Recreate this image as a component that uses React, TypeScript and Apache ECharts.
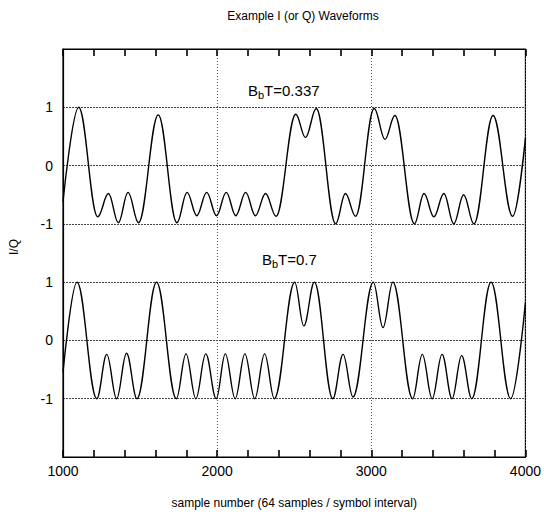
import React, { useEffect, useRef } from "react";
import * as echarts from "echarts";

// ---- axis data ----
const X_MIN = 1000;
const X_MAX = 4000;
const X_INTERVAL = 1000;
const X_TICK_INTERVAL = 200;
const Y_MIN = -2;
const Y_MAX = 5;
// tick labels for the stacked waveforms (top waveform is shifted by +3)
const yTickValues = [-1, 0, 1, 2, 3, 4];
const yTickLabels = ["-1", "0", "1", "-1", "0", "1"];
const TOP_OFFSET = 3;

// ---- BbT = 0.337 waveform (extrema) ----
const bt0337Samples = [
  1000, 1102, 1225, 1295, 1359, 1422, 1490, 1618, 1739, 1805, 1868, 1932, 1996,
  2059, 2121, 2185, 2248, 2314, 2382, 2510, 2573, 2643, 2769, 2832, 2898, 3019,
  3089, 3153, 3280, 3342, 3406, 3471, 3535, 3599, 3666, 3790, 3917, 4000,
];
const bt0337Values = [
  -0.62, 1.0, -0.88, -0.48, -0.98, -0.46, -0.98, 0.87, -0.98, -0.46, -0.86, -0.46,
  -0.86, -0.46, -0.86, -0.46, -0.86, -0.48, -0.87, 0.88, 0.48, 0.98, -1.0, -0.48,
  -0.87, 0.98, 0.45, 0.86, -1.0, -0.48, -0.88, -0.48, -1.0, -0.5, -1.0, 0.86,
  -0.87, 0.47,
];

// ---- BbT = 0.7 waveform ----
const bt07Samples = [
  1000, 1091, 1219, 1284, 1348, 1412, 1480, 1607, 1735, 1798, 1862, 1926, 1994,
  2053, 2117, 2180, 2244, 2308, 2371, 2503, 2562, 2631, 2750, 2817, 2881, 3013,
  3076, 3140, 3268, 3331, 3395, 3459, 3524, 3586, 3652, 3777, 3904, 4000,
];
const bt07Values = [
  -0.55, 1.0, -1.0, -0.24, -1.0, -0.22, -1.0, 1.0, -1.0, -0.23, -1.0, -0.23, -1.0,
  -0.23, -1.0, -0.23, -1.0, -0.23, -1.0, 1.0, 0.25, 1.0, -1.0, -0.24, -0.97, 1.0,
  0.22, 1.0, -1.0, -0.24, -1.0, -0.24, -1.0, -0.26, -1.0, 1.0, -1.0, 0.65,
];

const FONT = "'Liberation Sans', Arial, Helvetica, sans-serif";

export default function App() {
  const ref = useRef<HTMLDivElement>(null);

  useEffect(() => {
    if (!ref.current) return;
    const chart = echarts.init(ref.current, undefined, { renderer: "svg" });

    const topData = bt0337Samples.map((s, i) => [s, bt0337Values[i] + TOP_OFFSET]);
    const bottomData = bt07Samples.map((s, i) => [s, bt07Values[i]]);

    const labelFor = (v: number) => {
      const r = Math.round(v);
      const i = yTickValues.indexOf(r);
      return i >= 0 && Math.abs(v - r) < 1e-6 ? yTickLabels[i] : "";
    };

    const lineSeries = (data: number[][]) => ({
      type: "line",
      data,
      showSymbol: false,
      smooth: 0.38,
      smoothMonotone: "x",
      lineStyle: { color: "#000", width: 1.4 },
      xAxisIndex: 0,
      yAxisIndex: 0,
    });

    const tickAxis = (position: "top" | "bottom") => ({
      type: "value",
      position,
      min: X_MIN,
      max: X_MAX,
      interval: X_TICK_INTERVAL,
      axisLine: { show: true, onZero: false, lineStyle: { color: "#000", width: 1.2 } },
      axisTick: { show: true, inside: true, length: 7, lineStyle: { color: "#000", width: 1.6 } },
      axisLabel: { show: false },
      splitLine: { show: false },
    });

    chart.setOption({
      animation: false,
      backgroundColor: "#fff",
      textStyle: { fontFamily: FONT },
      title: {
        text: "Example I (or Q) Waveforms",
        left: 298,
        top: 5,
        textAlign: "center",
        textStyle: { fontSize: 12, fontWeight: "normal", color: "#000", fontFamily: FONT },
      },
      grid: {
        left: 58,
        right: 15,
        top: 49,
        bottom: 56,
        show: true,
        borderColor: "#000",
        borderWidth: 1.2,
        backgroundColor: "transparent",
      },
      xAxis: [
        {
          type: "value",
          position: "bottom",
          min: X_MIN,
          max: X_MAX,
          interval: X_INTERVAL,
          name: "sample number (64 samples / symbol interval)",
          nameLocation: "middle",
          nameGap: 40,
          nameTextStyle: { fontSize: 12, color: "#000", fontFamily: FONT },
          axisLine: { show: true, onZero: false, lineStyle: { color: "#000", width: 1.2 } },
          axisTick: { show: false },
          axisLabel: {
            fontSize: 14,
            color: "#000",
            margin: 7,
            fontFamily: FONT,
            formatter: (v: number) => String(v),
          },
          splitLine: { show: true, lineStyle: { type: [1, 2], color: "#555", width: 1 } },
        },
        tickAxis("bottom"),
        tickAxis("top"),
      ],
      yAxis: {
        type: "value",
        min: Y_MIN,
        max: Y_MAX,
        interval: 1,
        name: "I/Q",
        nameLocation: "middle",
        nameGap: 43,
        nameRotate: 90,
        nameTextStyle: { fontSize: 12, color: "#000", fontFamily: FONT, padding: [0, 0, 0, 12] },
        axisLine: { show: true, onZero: false, lineStyle: { color: "#000", width: 1.2 } },
        axisTick: { show: false },
        axisLabel: { fontSize: 14, color: "#000", margin: 10, formatter: labelFor, fontFamily: FONT },
        splitLine: { show: true, lineStyle: { type: [2, 1], color: "#444", width: 1 } },
      },
      graphic: [
        {
          type: "text",
          left: 248,
          top: 83,
          style: {
            text: "{m|B}{s|b}{m|T=0.337}",
            rich: {
              m: { fontSize: 15, fontFamily: FONT, fill: "#000" },
              s: { fontSize: 11, fontFamily: FONT, fill: "#000", padding: [9, 0, 0, 0] },
            },
          },
        },
        {
          type: "text",
          left: 262,
          top: 252,
          style: {
            text: "{m|B}{s|b}{m|T=0.7}",
            rich: {
              m: { fontSize: 15, fontFamily: FONT, fill: "#000" },
              s: { fontSize: 11, fontFamily: FONT, fill: "#000", padding: [9, 0, 0, 0] },
            },
          },
        },
      ],
      series: [lineSeries(topData), lineSeries(bottomData)],
    });

    return () => chart.dispose();
  }, []);

  return <div ref={ref} style={{ width: 544, height: 514, position: "absolute", left: 0, top: 0 }} />;
}
